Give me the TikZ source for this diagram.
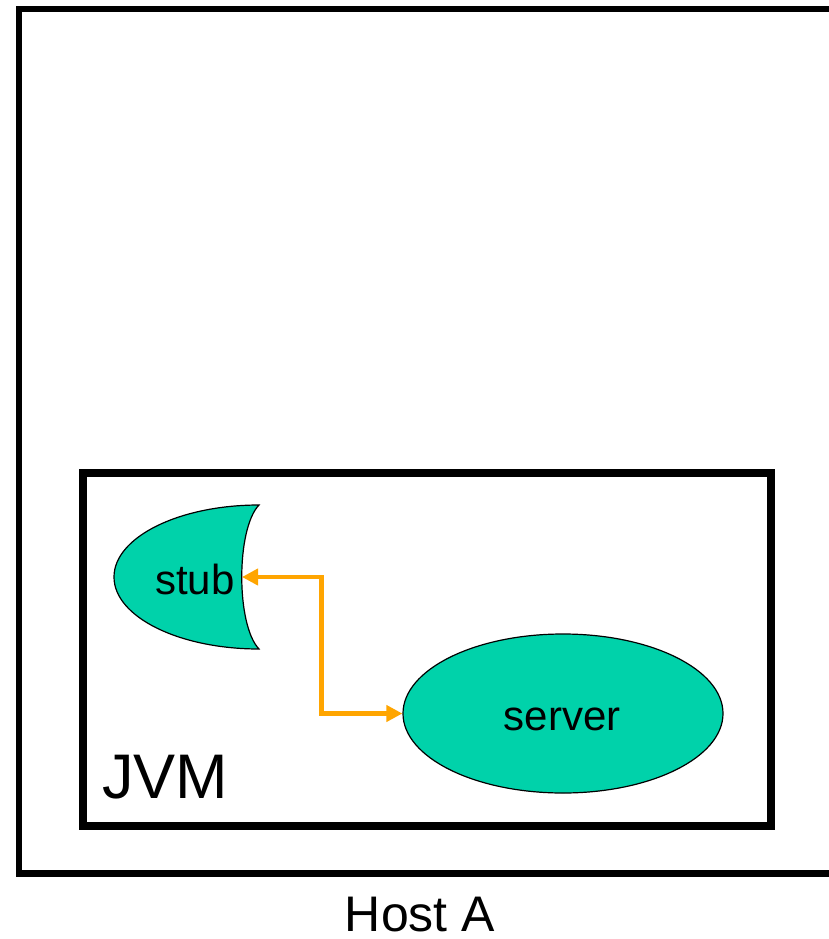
\documentclass[tikz,border=0pt]{standalone}
\usepackage{fontspec}
\setmainfont{Liberation Sans}
\usetikzlibrary{arrows.meta,shapes.geometric}
\definecolor{objfill}{RGB}{0,210,170}
\definecolor{callline}{RGB}{255,165,0}
\tikzset{
  hostbox/.style={draw=black, line width=6.5pt},
  jvmbox/.style={draw=black, line width=8pt},
  objshape/.style={fill=objfill, draw=black, line width=1.2pt},
  call/.style={draw=callline, line width=4.5pt,
    {Triangle[length=16pt,width=16pt]}-{Triangle[length=16pt,width=16pt]}},
  lbl/.style={inner sep=0pt, anchor=base}
}
\begin{document}
\begin{tikzpicture}[x=1pt,y=-1pt]
  \useasboundingbox (0,0) rectangle (828,939);

  % host machine (its right side runs off the page)
  \draw[hostbox] (860,9) -- (19,9) -- (19,873.5) -- (860,873.5);
  \node[lbl, font=\fontsize{50}{60}\selectfont] (hostlbl) at (420,931) {Host A};

  % virtual machine
  \draw[jvmbox] (82.5,473) rectangle (771,825.5);
  \node[lbl, anchor=base west, font=\fontsize{63}{75}\selectfont] (jvmlbl) at (102,798) {JVM};

  % stub: half ellipse with a concave right side
  \draw[objshape] (259,505) arc[start angle=-90, end angle=-270, x radius=145, y radius=72]
    .. controls (236,625) and (236,529) .. cycle;
  \coordinate (stubport) at (242,577);
  \node[lbl, font=\fontsize{42}{50}\selectfont] (stub) at (195,594) {stub};

  % server object
  \node[ellipse, objshape, minimum width=320pt, minimum height=159pt, inner sep=0pt]
    (server) at (563,713.5) {};
  \node[lbl, font=\fontsize{42}{50}\selectfont] (serverlbl) at (562,730) {server};

  % call path between stub and server
  \draw[call] (stubport) -- (321.7,577) |- (server.west);
\end{tikzpicture}
\end{document}
